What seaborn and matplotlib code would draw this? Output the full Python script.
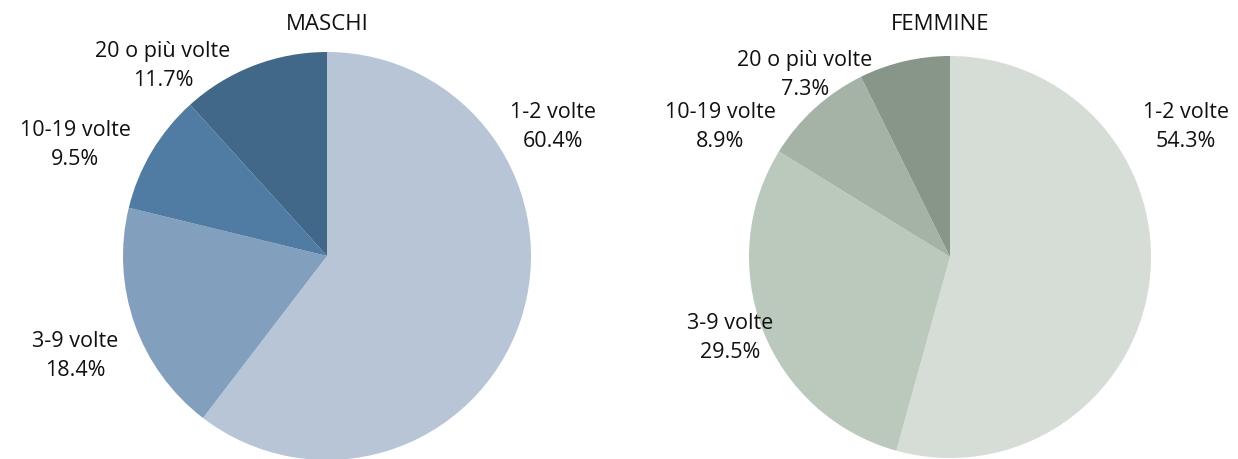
import matplotlib.pyplot as plt
import pandas as pd
import seaborn as sns

# ---------------------------------------------------------------------------
# Data
# ---------------------------------------------------------------------------

categories = ["1-2 volte", "3-9 volte", "10-19 volte", "20 o più volte"]
maschi = [60.4, 18.4, 9.5, 11.7]
femmine = [54.3, 29.5, 8.9, 7.3]

colors_maschi = ["#B8C5D7", "#82A0BE", "#507CA4", "#426889"]
colors_femmine = ["#D6DDD7", "#BBC9BD", "#A4B3A6", "#879688"]

df = pd.DataFrame({"Categoria": categories, "MASCHI": maschi, "FEMMINE": femmine})

sns.set_theme(style="white")
plt.rcParams["font.family"] = ["Open Sans", "DejaVu Sans"]

W, H = 1238, 459
fig = plt.figure(figsize=(W / 100, H / 100), dpi=100)

# label positions in pixels (centre of the two-line text block)
label_pos = {
    "MASCHI": [(553, 127), (75, 356), (75, 145), (163, 66)],
    "FEMMINE": [(1186, 127), (730, 338), (720, 127), (805, 75)],
}
title_pos = {"MASCHI": (327, 24), "FEMMINE": (940, 24)}
pie_geom = {"MASCHI": (327, 256, 204), "FEMMINE": (950, 257, 201)}
palettes = {"MASCHI": colors_maschi, "FEMMINE": colors_femmine}

for col in ["MASCHI", "FEMMINE"]:
    cx, cy, r = pie_geom[col]
    ax = fig.add_axes([(cx - r) / W, (H - cy - r) / H, 2 * r / W, 2 * r / H])
    ax.pie(
        df[col], colors=palettes[col], startangle=90, counterclock=False,
        radius=1, wedgeprops={"linewidth": 0},
    )
    ax.set_xlim(-1, 1)
    ax.set_ylim(-1, 1)
    ax.set_aspect("equal")
    ax.axis("off")

    tx, ty = title_pos[col]
    fig.text(tx / W, 1 - ty / H, col, ha="center", va="center", fontsize=16, color="#111111")

    for cat, val, (px, py) in zip(df["Categoria"], df[col], label_pos[col]):
        fig.text(
            px / W, 1 - py / H, f"{cat}\n{val:.1f}%",
            ha="center", va="center", fontsize=15.5, color="#111111",
            linespacing=1.5,
        )

fig.savefig("out.png", dpi=100)
